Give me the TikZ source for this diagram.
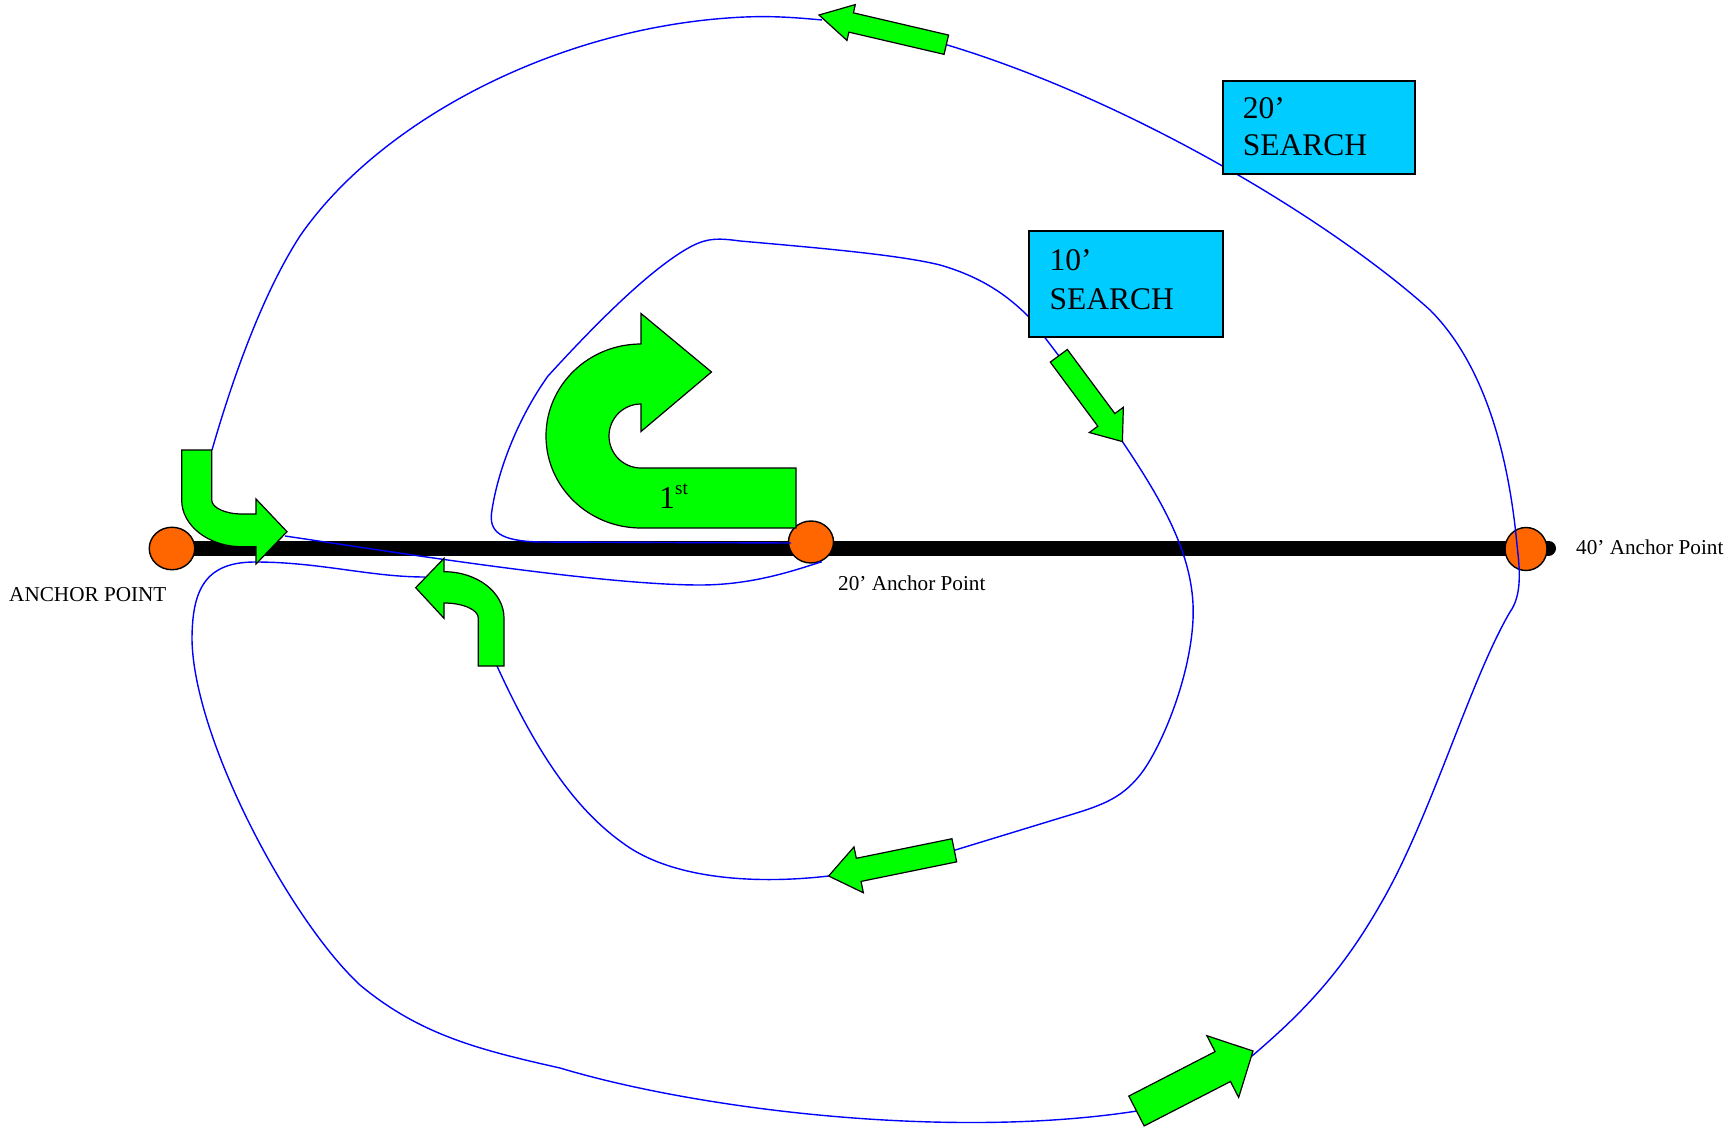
\documentclass[tikz,border=0pt]{standalone}
\usepackage{fontspec}
\setmainfont{Liberation Serif}
\usetikzlibrary{shapes.geometric}
\definecolor{gfill}{HTML}{00FF00}
\definecolor{ofill}{HTML}{FF6600}
\definecolor{cfill}{HTML}{00CCFF}
\definecolor{pathblue}{HTML}{0000FF}
\tikzset{
  greenshape/.style={draw=black, line width=1.2pt, fill=gfill, line join=miter},
  anchordot/.style={ellipse, draw=black, line width=1.4pt, fill=ofill, inner sep=0pt},
  bluepath/.style={draw=pathblue, line width=1.4pt},
  searchbox/.style={rectangle, draw=black, line width=2pt, fill=cfill, inner sep=0pt, anchor=north west},
  boxtext/.style={inner sep=0pt, anchor=base west, font=\fontsize{31.5}{36}\selectfont},
  smalltext/.style={inner sep=0pt, anchor=base west, font=\fontsize{21.2}{25}\selectfont},
}
\newcommand{\blockarrow}[7]{%
  \pgfmathsetmacro{\baang}{atan2(-(#4-#2),#3-#1)}%
  \pgfmathsetmacro{\balen}{veclen(#3-#1,#4-#2)}%
  \begin{scope}[shift={(#1,#2)},rotate=\baang]
    \draw[greenshape] (0,-#5) -- ({\balen-#7},-#5) -- ({\balen-#7},-#6) -- (\balen,0)
      -- ({\balen-#7},#6) -- ({\balen-#7},#5) -- (0,#5) -- cycle;
  \end{scope}}
\begin{document}
\begin{tikzpicture}[x=1pt,y=-1pt]
\useasboundingbox (0,0) rectangle (1735,1129);

% anchor points and rope
\coordinate (barend) at (1548.5,548.2);
\coordinate (barstart) at (172,548.2);
\draw[line width=15pt, line cap=round] (barstart) -- (barend);
\node[anchordot, minimum width=45.5pt, minimum height=42.5pt] (a0) at (172,548.5) {};
\node[anchordot, minimum width=45pt, minimum height=42pt] (a20) at (811,542) {};
\node[anchordot, minimum width=42pt, minimum height=43pt] (a40) at (1526,549) {};

% search path (blue)
% 10' loop, upper part
\draw[bluepath] (791,543) -- (540,542)
  .. controls (500,541) and (488,532) .. (492,510)
  .. controls (498,470) and (518,418) .. (548,376)
  .. controls (590,330) and (650,268) .. (692,246)
  .. controls (708,238) and (718,238) .. (740,241)
  .. controls (820,248) and (900,255) .. (940,265)
  .. controls (985,278) and (1010,298) .. (1030,318)
  -- (1058.8,355.8);
% 10' loop, right part
\draw[bluepath] (1122.5,441.7)
  .. controls (1165,505) and (1196,560) .. (1193,620)
  .. controls (1190,680) and (1160,750) .. (1140,775)
  .. controls (1120,800) and (1100,806) .. (1060,818)
  -- (954.3,850.3);
% 10' loop, lower part
\draw[bluepath] (828.6,876)
  .. controls (760,884) and (680,880) .. (630,848)
  .. controls (580,815) and (540,760) .. (497,666);
% 20' loop, lower left part
\draw[bluepath] (425,577)
  .. controls (370,577) and (320,562) .. (255,562)
  .. controls (205,562) and (192,590) .. (192,640)
  .. controls (194,740) and (290,920) .. (360,985)
  .. controls (420,1035) and (480,1050) .. (560,1068)
  .. controls (700,1110) and (950,1140) .. (1137,1111);
% 20' loop, right part
\draw[bluepath] (1252,1056)
  .. controls (1300,1015) and (1340,975) .. (1380,905)
  .. controls (1430,820) and (1470,680) .. (1510,612)
  .. controls (1522,595) and (1520,570) .. (1517,545)
  .. controls (1510,470) and (1490,370) .. (1430,310)
  .. controls (1330,220) and (1130,100) .. (946.3,44.7);
% 20' loop, upper left part
\draw[bluepath] (822,20)
  .. controls (790,17) and (770,16) .. (745,17)
  .. controls (560,25) and (380,120) .. (300,236)
  .. controls (265,290) and (235,370) .. (212,450);
% back to the 20' anchor
\draw[bluepath] (285,536)
  .. controls (400,553) and (600,585) .. (700,585)
  .. controls (750,585) and (790,572) .. (821.7,561.7);

% green arrows
\draw[greenshape] (796,528) -- (641,528)
  .. controls (588.5,528) and (546,486.8) .. (546,436)
  .. controls (546,385.2) and (588.5,344) .. (641,344)
  -- (641,313.5) -- (711.5,372) -- (641,431.5) -- (641,404)
  .. controls (623.3,404) and (609,418.3) .. (609,436)
  .. controls (609,453.7) and (623.3,468) .. (641,468)
  -- (796,468) -- cycle;
\draw[greenshape] (181.7,450) -- (181.7,500)
  .. controls (181.7,525.8) and (208.7,546.7) .. (242,546.7)
  -- (256,546.7) -- (256,564) -- (287,531.7) -- (256,499) -- (256,514) -- (242,514)
  .. controls (225.3,514) and (211.7,507.7) .. (211.7,500)
  -- (211.7,450) -- cycle;
\draw[greenshape] (478.3,666) -- (504,666) -- (504,618)
  .. controls (504,592.4) and (477.1,571.7) .. (444,571.7)
  -- (444,558.3) -- (415.7,587.7) -- (444,618.3) -- (444,603)
  .. controls (462.9,603) and (478.3,609.7) .. (478.3,618) -- cycle;
\blockarrow{946.3}{44.7}{819}{15}{9.9}{18.4}{33}
\blockarrow{1058.8}{355.8}{1122.5}{441.7}{10.6}{21.2}{27}
\blockarrow{954.3}{850.3}{828.6}{876}{11.8}{23.4}{30.7}
\blockarrow{1136.5}{1111}{1253}{1051}{16.8}{34.7}{34}

% search boxes
\node[searchbox, minimum width=192pt, minimum height=93.3pt] (box20) at (1221.7,80) {};
\node[boxtext] (box20a) at (1242.7,119) {20’};
\node[boxtext] (box20b) at (1242.7,156) {SEARCH};
\node[searchbox, minimum width=194pt, minimum height=106pt] (box10) at (1028,230) {};
\node[boxtext] (box10a) at (1049.3,270) {10’};
\node[boxtext] (box10b) at (1049.3,309.5) {SEARCH};

% labels
\node[inner sep=0pt, anchor=base west, font=\fontsize{32}{36}\selectfont] (first) at (659,508.3)
  {1\raisebox{14pt}{\fontsize{19}{20}\selectfont st}};
\node[smalltext] (l0) at (9,601.5) {ANCHOR POINT};
\node[smalltext] (l20) at (838,590) {20’ Anchor Point};
\node[smalltext] (l40) at (1576,554) {40’ Anchor Point};
\end{tikzpicture}
\end{document}
